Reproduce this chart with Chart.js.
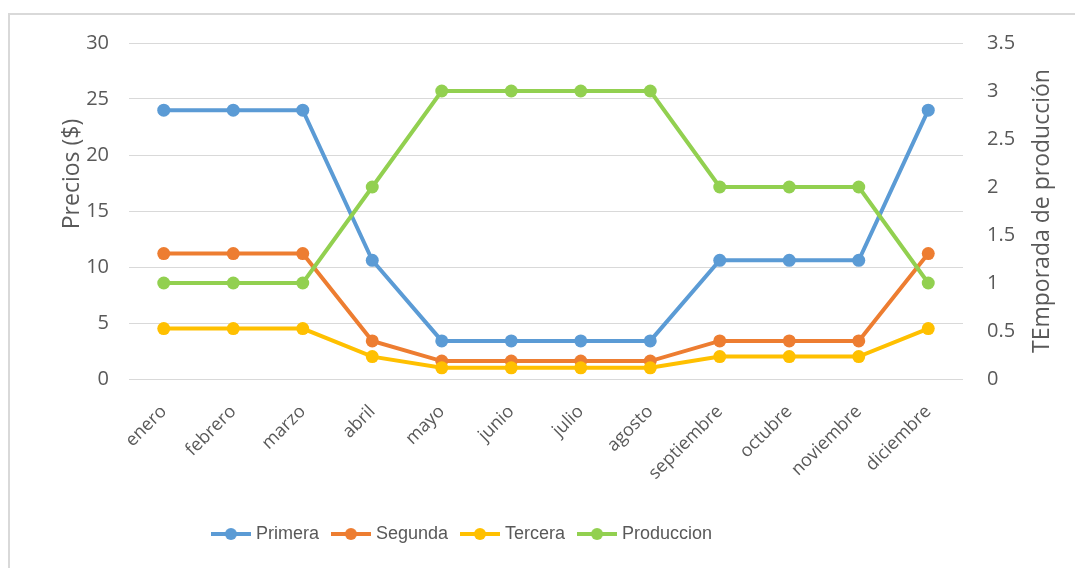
<!DOCTYPE html>
<html>
<head>
<meta charset="utf-8">
<script src="https://cdn.jsdelivr.net/npm/chart.js@4"></script>
<style>
  body { margin: 0; background: #fff; }
  #wrap { position: relative; width: 1075px; height: 568px; }
  #frame { position: absolute; left: 8px; top: 13px; right: -10px; bottom: -10px;
           border-left: 2px solid #d9d9d9; border-top: 2px solid #d9d9d9; pointer-events: none; }
</style>
</head>
<body>
<div id="wrap">
  <canvas id="chart"></canvas>
  <div id="frame"></div>
</div>
<script>
'use strict';

const months = ['enero', 'febrero', 'marzo', 'abril', 'mayo', 'junio', 'julio',
  'agosto', 'septiembre', 'octubre', 'noviembre', 'diciembre'];
const primera = [24, 24, 24, 10.6, 3.4, 3.4, 3.4, 3.4, 10.6, 10.6, 10.6, 24];
const segunda = [11.2, 11.2, 11.2, 3.4, 1.6, 1.6, 1.6, 1.6, 3.4, 3.4, 3.4, 11.2];
const tercera = [4.5, 4.5, 4.5, 2, 1, 1, 1, 1, 2, 2, 2, 4.5];
const produccion = [1, 1, 1, 2, 3, 3, 3, 3, 2, 2, 2, 1];

const gray = '#595959';
const tickFont = { family: "'Open Sans'", size: 20 };

// little line-with-dot icon for the legend
function legendIcon(color) {
  const c = document.createElement('canvas');
  c.width = 40; c.height = 14;
  const ctx = c.getContext('2d');
  ctx.strokeStyle = color;
  ctx.lineWidth = 4;
  ctx.beginPath();
  ctx.moveTo(0, 7); ctx.lineTo(40, 7);
  ctx.stroke();
  ctx.fillStyle = color;
  ctx.beginPath();
  ctx.arc(20, 7, 6, 0, Math.PI * 2);
  ctx.fill();
  return c;
}

function series(label, data, color, axis, order) {
  return {
    label: label,
    data: data,
    yAxisID: axis,
    borderColor: color,
    backgroundColor: color,
    pointBackgroundColor: color,
    pointBorderColor: color,
    borderWidth: 4,
    pointRadius: 6.5,
    pointBorderWidth: 0,
    tension: 0,
    order: order
  };
}

// axis titles drawn by hand so they sit where the original has them
const axisTitles = {
  id: 'axisTitles',
  beforeDraw(chart) {
    // legend in the original sits a bit left of centre
    chart.legend.left = 0;
    chart.legend.right = 927;
  },
  afterDraw(chart) {
    const ctx = chart.ctx;
    ctx.save();
    ctx.fillStyle = gray;
    ctx.font = "23px 'Open Sans'";
    ctx.textAlign = 'center';
    ctx.textBaseline = 'middle';
    ctx.translate(72, 174);
    ctx.rotate(-Math.PI / 2);
    ctx.fillText('Precios ($)', 0, 0);
    ctx.restore();

    ctx.save();
    ctx.fillStyle = gray;
    ctx.font = "23px 'Open Sans'";
    ctx.textAlign = 'center';
    ctx.textBaseline = 'middle';
    ctx.translate(1042, 211);
    ctx.rotate(-Math.PI / 2);
    ctx.fillText('TEmporada de producción', 0, 0);
    ctx.restore();
  }
};

const data = {
  labels: months,
  datasets: [
    series('Primera', primera, '#5B9BD5', 'y', 4),
    series('Segunda', segunda, '#ED7D31', 'y', 3),
    series('Tercera', tercera, '#FFC000', 'y', 2),
    series('Produccion', produccion, '#92D050', 'y2', 1)
  ]
};

const config = {
  type: 'line',
  data: data,
  plugins: [axisTitles],
  options: {
    responsive: true,
    maintainAspectRatio: false,
    animation: false,
    layout: { padding: { top: 43, left: 0, right: 0, bottom: 15 } },
    plugins: {
      tooltip: { enabled: false },
      legend: {
        position: 'bottom',
        labels: {
          usePointStyle: true,
          pointStyleWidth: 32,
          padding: 16,
          color: gray,
          font: { family: "'Liberation Sans'", size: 18 },
          generateLabels(chart) {
            return chart.data.datasets.map((ds, i) => ({
              text: ds.label,
              fillStyle: ds.borderColor,
              strokeStyle: ds.borderColor,
              lineWidth: 0,
              pointStyle: legendIcon(ds.borderColor),
              fontColor: gray,
              hidden: !chart.isDatasetVisible(i),
              datasetIndex: i
            }));
          }
        }
      }
    },
    scales: {
      x: {
        offset: true,
        grid: { display: false, offset: true },
        border: { display: false },
        ticks: { color: gray, font: { family: "'Open Sans'", size: 18 }, minRotation: 45, maxRotation: 45, padding: 14 },
        afterFit(scale) { scale.height = 130; }
      },
      y: {
        position: 'left',
        min: 0, max: 30,
        ticks: { stepSize: 5, color: gray, font: tickFont, padding: 20 },
        grid: { color: '#d9d9d9', lineWidth: 1, drawTicks: false },
        border: { display: false },
        afterFit(scale) { scale.width = 129; }
      },
      y2: {
        position: 'right',
        min: 0, max: 3.5,
        ticks: { stepSize: 0.5, color: gray, font: tickFont, padding: 24, callback: v => String(v) },
        grid: { display: false, drawTicks: false },
        border: { display: false },
        afterFit(scale) { scale.width = 112; }
      }
    }
  }
};

new Chart(document.getElementById('chart'), config);
</script>
</body>
</html>
